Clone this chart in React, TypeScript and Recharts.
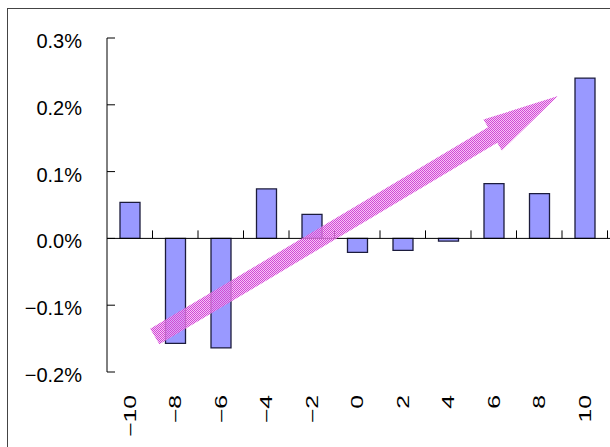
import React from 'react';
import { ComposedChart, Bar, XAxis, YAxis, ReferenceLine } from 'recharts';

// categories and values (percent)
const categories = ['-10', '-8', '-6', '-4', '-2', '0', '2', '4', '6', '8', '10'];
const values = [0.054, -0.157, -0.164, 0.074, 0.036, -0.021, -0.018, -0.004, 0.082, 0.067, 0.24];
const yTicks = [-0.2, -0.1, 0, 0.1, 0.2, 0.3];

// trend arrow, in data units (numeric x: -11..11 spans the category axis)
const arrowFrom = { x: -8.9, y: -0.147 };
const arrowTo = { x: 8.82, y: 0.213 };

const data = categories.map((c, i) => ({ name: c, value: values[i] }));

const FONT = '"Liberation Sans", Arial, sans-serif';
const minus = (s: string) => s.replace('-', '\u2212');

const YTick = (props: any) => {
  const { x, y, payload } = props;
  return (
    <g>
      <line x1={x} y1={y} x2={x + 8} y2={y} stroke="#000" strokeWidth={1} />
      <text x={x - 25} y={y + 3} textAnchor="end" dominantBaseline="central" fontSize={20} fontFamily={FONT} fill="#000">
        {minus(payload.value.toFixed(1) + '%')}
      </text>
    </g>
  );
};

const XTick = (props: any) => {
  const { x, y, payload } = props;
  return (
    <text
      transform={`translate(${x},${y + 23}) rotate(-90) scale(1.55,1)`}
      textAnchor="end"
      dominantBaseline="central"
      fontSize={16}
      fontFamily={FONT}
      fill="#000"
    >
      {minus(payload.value)}
    </text>
  );
};

// zero line with the category separator ticks on it
const ZeroLine = (props: any) => {
  const { x1, x2, y1 } = props;
  const step = (x2 - x1) / categories.length;
  return (
    <g>
      <line x1={x1} y1={y1} x2={x2 + 5} y2={y1} stroke="#000" strokeWidth={1} />
      {categories.map((c, i) => (
        <line key={c} x1={x1 + step * (i + 1)} y1={y1} x2={x1 + step * (i + 1)} y2={y1 - 8} stroke="#000" strokeWidth={1} />
      ))}
    </g>
  );
};

const Arrow = (props: any) => {
  const { x1, y1, x2, y2 } = props;
  if ([x1, y1, x2, y2].some((v) => typeof v !== 'number' || isNaN(v))) return <g />;
  const len = Math.hypot(x2 - x1, y2 - y1);
  const ux = (x2 - x1) / len;
  const uy = (y2 - y1) / len;
  const nx = -uy;
  const ny = ux;
  const shaft = 9;
  const head = 18;
  const headLen = 76;
  const bx = x2 - ux * headLen;
  const by = y2 - uy * headLen;
  const pts = [
    [x1 + nx * shaft, y1 + ny * shaft],
    [bx + nx * shaft, by + ny * shaft],
    [bx + nx * head, by + ny * head],
    [x2, y2],
    [bx - nx * head, by - ny * head],
    [bx - nx * shaft, by - ny * shaft],
    [x1 - nx * shaft, y1 - ny * shaft],
  ]
    .map((p) => p.join(','))
    .join(' ');
  return (
    <g>
      <defs>
        <pattern id="arrowDots" width={2} height={2} patternUnits="userSpaceOnUse">
          <rect x={0} y={0} width={2} height={2} fill="#f4aaf4" fillOpacity={0.7} />
          <rect x={0} y={0} width={1} height={1} fill="#d04cd4" />
          <rect x={1} y={1} width={1} height={1} fill="#d04cd4" />
        </pattern>
      </defs>
      <polygon points={pts} fill="url(#arrowDots)" />
    </g>
  );
};

export default function App() {
  return (
    <div style={{ position: 'absolute', left: 0, top: 0, width: 610, height: 447, overflow: 'hidden', background: '#fff' }}>
      <div style={{ position: 'absolute', left: 7, top: 8, width: 700, height: 600, border: '1px solid #444' }} />
      <div style={{ position: 'absolute', left: 0, top: 0 }}>
        <ComposedChart
          width={610}
          height={447}
          data={data}
          margin={{ top: 38, right: 2.5, left: 27, bottom: 15 }}
          barSize={20}
        >
          <XAxis
            xAxisId="cat"
            dataKey="name"
            axisLine={false}
            tickLine={false}
            tickSize={0}
            tickMargin={0}
            height={60}
            interval={0}
            tick={<XTick />}
          />
          <XAxis xAxisId="num" type="number" dataKey="n" domain={[-11, 11]} hide allowDataOverflow />
          <YAxis
            domain={[-0.2, 0.3]}
            ticks={yTicks}
            width={80}
            axisLine={{ stroke: '#000', strokeWidth: 1 }}
            tickLine={false}
            tickSize={0}
            tickMargin={0}
            interval={0}
            tick={<YTick />}
          />
          <Bar xAxisId="cat" dataKey="value" fill="#9999ff" stroke="#1c1c3c" strokeWidth={1.3} isAnimationActive={false} />
          <ReferenceLine xAxisId="cat" y={0} shape={(p: any) => <ZeroLine {...p} />} />
          <ReferenceLine
            xAxisId="num"
            segment={[arrowFrom, arrowTo]}
            ifOverflow="visible"
            shape={(p: any) => <Arrow {...p} />}
          />
        </ComposedChart>
      </div>
    </div>
  );
}
